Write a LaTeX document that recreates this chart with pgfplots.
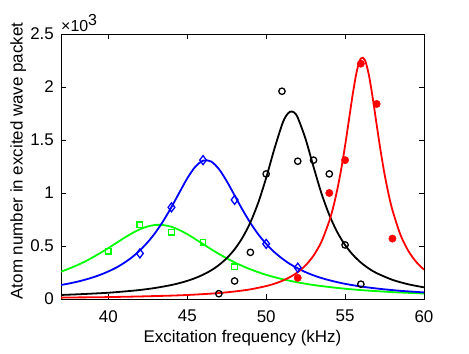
\documentclass[border=0pt]{standalone}
\usepackage{fontspec}
\setmainfont{Liberation Sans}
\setsansfont{Liberation Sans}
\usepackage{pgfplots}
\pgfplotsset{compat=1.18}

\newcommand{\bigfont}{\fontsize{17}{20}\selectfont}

\begin{document}
\begin{tikzpicture}
\begin{axis}[
  scale only axis,
  width=363bp, height=265bp,
  xmin=37, xmax=60, ymin=0, ymax=2.5,
  xtick={40,45,50,55,60},
  ytick={0,0.5,1,1.5,2,2.5},
  yticklabels={0,0.5,1,1.5,2,2.5},
  scaled ticks=false,
  tick align=inside,
  major tick length=5bp,
  axis line style={line width=1bp},
  every tick/.style={line width=0.8bp, black},
  /pgf/number format/assume math mode=true,
  tick label style={font=\bigfont, inner sep=0pt},
  yticklabel style={xshift=-7bp},
  xticklabel style={yshift=-11bp},
  label style={font=\bigfont},
  xlabel={Excitation frequency (kHz)},
  ylabel={Atom number in excited wave packet},
  xlabel style={at={(axis description cs:0.5,-0.1623)}, anchor=base},
  ylabel style={at={(axis description cs:-0.106,0.521)}, anchor=base, rotate=0},
  clip=true,
]
% green: data and fit
\addplot[only marks, mark=square, mark size=2.8bp, green, mark options={line width=1.3bp}]
  coordinates {(40,0.45)(42,0.70)(44,0.63)(46,0.535)(48,0.305)};
\addplot[green, line width=1.8bp, smooth] coordinates {
  (37,0.258)(37.5,0.286)(38,0.317)(38.5,0.352)(39,0.392)(39.5,0.435)(40,0.480)
  (40.5,0.528)(41,0.576)(41.5,0.620)(42,0.658)(42.5,0.685)(43,0.699)(43.5,0.697)
  (44,0.681)(44.5,0.651)(45,0.612)(45.5,0.566)(46,0.519)(46.5,0.471)(47,0.426)
  (47.5,0.384)(48,0.345)(48.5,0.311)(49,0.280)(49.5,0.253)(50,0.228)(51,0.188)
  (52,0.157)(53,0.132)(54,0.113)(55,0.097)(56,0.084)(57,0.074)(58,0.065)
  (59,0.058)(60,0.052)};
% blue: data and fit
\addplot[only marks, mark=diamond, mark size=4.5bp, blue, mark options={line width=1.3bp}]
  coordinates {(42,0.43)(44,0.865)(46,1.31)(48,0.935)(50,0.52)(52,0.295)};
\addplot[blue, line width=1.8bp, smooth] coordinates {
  (37,0.132)(37.5,0.146)(38,0.162)(38.5,0.181)(39,0.203)(39.5,0.229)(40,0.260)
  (40.5,0.296)(41,0.341)(41.5,0.394)(42,0.459)(42.5,0.537)(43,0.630)(43.5,0.741)
  (44,0.868)(44.5,1.004)(45,1.138)(45.5,1.246)(46,1.305)(46.5,1.298)(47,1.227)
  (47.5,1.112)(48,0.977)(48.5,0.842)(49,0.718)(49.5,0.610)(50,0.520)(50.5,0.445)
  (51,0.383)(51.5,0.331)(52,0.289)(52.5,0.253)(53,0.223)(53.5,0.198)(54,0.177)
  (54.5,0.159)(55,0.143)(55.5,0.130)(56,0.118)(56.5,0.108)(57,0.099)(57.5,0.091)
  (58,0.084)(58.5,0.077)(59,0.072)(59.5,0.067)(60,0.062)};
% black: data and fit
\addplot[only marks, mark=o, mark size=3.2bp, black, mark options={line width=1.3bp}]
  coordinates {(47,0.05)(48,0.17)(49,0.44)(50,1.18)(51,1.96)(52,1.30)(53,1.31)(54,1.18)(55,0.51)(56,0.14)};
\addplot[black, line width=1.8bp, smooth] coordinates {
  (37,0.038)(38,0.044)(39,0.051)(40,0.059)(41,0.071)(42,0.085)(43,0.105)
  (44,0.132)(44.5,0.150)(45,0.171)(45.5,0.197)(46,0.229)(46.5,0.269)(47,0.320)
  (47.5,0.385)(48,0.469)(48.5,0.579)(49,0.723)(49.5,0.910)(50,1.143)(50.5,1.406)
  (51,1.643)(51.25,1.725)(51.5,1.766)(51.75,1.762)(52,1.711)(52.5,1.508)(53,1.247)
  (53.5,0.998)(54,0.793)(54.5,0.632)(55,0.509)(55.5,0.416)(56,0.344)(56.5,0.288)
  (57,0.244)(58,0.181)(59,0.139)(60,0.110)};
% red: data and fit
\addplot[only marks, mark=*, mark size=3.7bp, red]
  coordinates {(52,0.20)(54,1.00)(55,1.31)(56,2.22)(57,1.84)(58,0.57)};
\addplot[red, line width=1.8bp, smooth] coordinates {
  (37,0.013)(38,0.015)(39,0.016)(40,0.018)(41,0.021)(42,0.024)(43,0.028)
  (44,0.032)(45,0.038)(46,0.046)(47,0.056)(48,0.071)(49,0.091)(50,0.122)
  (50.5,0.143)(51,0.170)(51.5,0.206)(52,0.253)(52.5,0.318)(53,0.409)(53.5,0.540)
  (54,0.736)(54.25,0.867)(54.5,1.028)(54.75,1.221)(55,1.447)(55.25,1.696)
  (55.5,1.946)(55.75,2.154)(56,2.269)(56.25,2.256)(56.5,2.119)(56.75,1.898)
  (57,1.645)(57.25,1.399)(57.5,1.179)(57.75,0.993)(58,0.839)(58.5,0.609)
  (59,0.456)(59.5,0.351)(60,0.277)};
\end{axis}
\node[anchor=base west, inner sep=0pt] at ([yshift=2.5bp]current axis.north west) {\fontsize{16}{18}\selectfont ×10\raisebox{6bp}{3}};
\pgfresetboundingbox
\path[use as bounding box] ([shift={(-61bp,-55bp)}]current axis.south west) rectangle ([shift={(45bp,34bp)}]current axis.north east);
\end{tikzpicture}
\end{document}
